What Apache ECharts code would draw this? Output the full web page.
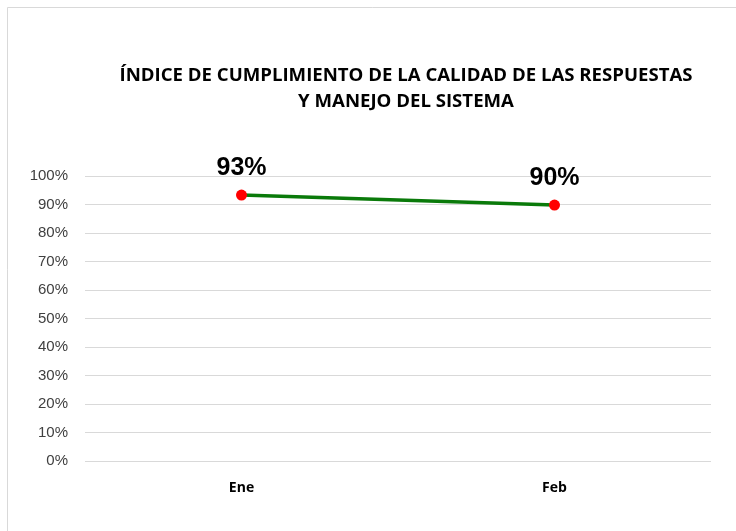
<!DOCTYPE html>
<html><head><meta charset="utf-8">
<script src="https://cdn.jsdelivr.net/npm/echarts@6/dist/echarts.min.js"></script>
<style>html,body{margin:0;padding:0;background:#fff}#c{width:736px;height:531px}</style>
</head><body><div id="c"></div>
<script>
const categories = ["Ene", "Feb"];
const values = [0.933, 0.898];
const yTicks = [0, 0.1, 0.2, 0.3, 0.4, 0.5, 0.6, 0.7, 0.8, 0.9, 1.0];
const titleText = "ÍNDICE DE CUMPLIMIENTO DE LA CALIDAD DE LAS RESPUESTAS\nY MANEJO DEL SISTEMA";

const chart = echarts.init(document.getElementById('c'), null, {renderer: 'canvas'});
chart.setOption({
  animation: false,
  backgroundColor: '#fff',
  graphic: [{
    type: 'rect', shape: {x: 7.5, y: 7.5, width: 740, height: 540},
    style: {fill: 'none', stroke: '#d9d9d9', lineWidth: 1}, z: -1
  }],
  title: {
    text: titleText, left: 401, top: 58, textAlign: 'center',
    textStyle: {fontFamily: '"Open Sans", sans-serif', fontWeight: 'bold', fontSize: 18.6, color: '#000', lineHeight: 26}
  },
  grid: {left: 85, right: 25, top: 176, bottom: 70, containLabel: false},
  xAxis: {
    type: 'category', data: categories, boundaryGap: true,
    axisLine: {show: false}, axisTick: {show: false},
    axisLabel: {margin: 20, fontFamily: '"Open Sans", sans-serif', fontWeight: 'bold', fontSize: 14, color: '#000'}
  },
  yAxis: {
    type: 'value', min: 0, max: 1, interval: 0.1,
    axisLine: {show: false}, axisTick: {show: false},
    splitLine: {lineStyle: {color: '#d9d9d9', width: 1}},
    axisLabel: {margin: 17, fontFamily: '"Liberation Sans", sans-serif', fontSize: 15, color: '#404040',
      formatter: v => Math.round(v * 100) + '%'}
  },
  series: [{
    type: 'line', data: values,
    lineStyle: {color: '#0a7a0a', width: 3.5},
    symbol: 'circle', symbolSize: 11,
    itemStyle: {color: '#ff0000'},
    label: {show: true, position: 'top', distance: 9,
      formatter: p => Math.round(p.value * 100) + '%',
      fontFamily: '"Liberation Sans", Arial, sans-serif', fontWeight: 'bold', fontSize: 25, color: '#000'}
  }]
});
</script></body></html>
